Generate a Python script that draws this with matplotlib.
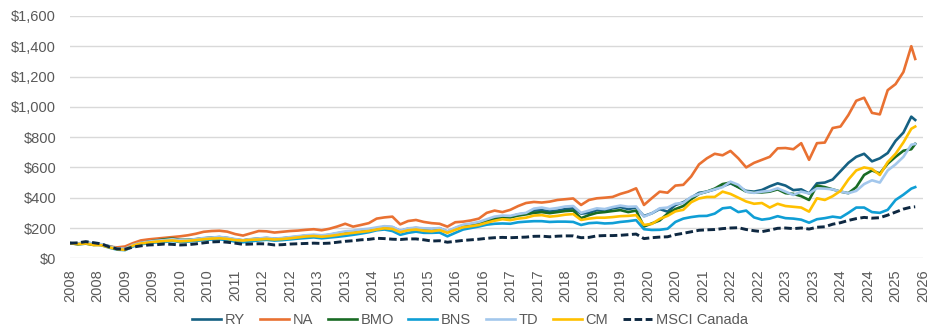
import matplotlib
matplotlib.use("Agg")
import matplotlib.pyplot as plt
import numpy as np
import pandas as pd

plt.rcParams['font.family'] = ['Liberation Sans', 'DejaVu Sans']

# Valeur de 100 $ investis en janvier 2008 (points tous les deux mois, puis dec. 2025)
dates = list(pd.date_range('2008-01-01', '2025-11-01', freq='2MS')) + [pd.Timestamp('2025-12-01')]

ry = [100, 96, 104, 97, 92, 80,
      66, 63, 90, 104, 112, 118,
      120, 124, 118, 120, 125, 132,
      136, 140, 134, 124, 118, 125,
      130, 134, 128, 132, 138, 142,
      150, 152, 148, 155, 165, 172,
      178, 185, 190, 198, 208, 205,
      180, 195, 200, 195, 192, 198,
      176, 198, 218, 225, 232, 250,
      262, 272, 275, 290, 296, 315,
      318, 310, 315, 325, 330, 295,
      300, 318, 315, 330, 338, 325,
      335, 279, 297, 325, 308, 352,
      370, 400, 432, 440, 455, 475,
      495, 470, 445, 440, 451, 475,
      495, 480, 450, 455, 428, 495,
      500, 520, 575, 630, 670, 690,
      640, 660, 695, 775, 830, 935,
      913]

na = [100, 97, 103, 94, 90, 76,
      72, 78, 100, 118, 125, 130,
      135, 140, 145, 152, 162, 175,
      180, 182, 176, 160, 150, 165,
      180, 178, 170, 175, 180, 183,
      188, 192, 185, 195, 210, 228,
      209, 220, 232, 262, 270, 275,
      224, 246, 253, 240, 232, 228,
      209, 238, 242, 250, 262, 300,
      315, 305, 320, 345, 365, 372,
      368, 374, 385, 390, 395, 352,
      385, 396, 400, 405, 425, 440,
      462, 352, 397, 440, 433, 480,
      485, 540, 620, 660, 690, 680,
      709, 660, 600, 630, 650, 670,
      726, 728, 720, 760, 650, 760,
      764, 860, 870, 946, 1040, 1060,
      960, 950, 1110, 1150, 1230, 1400,
      1316]

bmo = [100, 92, 97, 88, 90, 75,
       62, 58, 84, 100, 110, 118,
       125, 130, 122, 122, 126, 131,
       136, 138, 132, 122, 118, 125,
       128, 132, 126, 130, 136, 140,
       145, 150, 147, 152, 160, 168,
       174, 180, 186, 194, 200, 196,
       178, 190, 196, 190, 186, 192,
       174, 196, 216, 222, 230, 246,
       262, 272, 270, 282, 290, 300,
       305, 298, 305, 312, 315, 265,
       285, 300, 305, 312, 318, 305,
       315, 210, 230, 250, 295, 325,
       345, 390, 425, 440, 460, 490,
       500, 470, 440, 435, 435, 440,
       455, 430, 425, 410, 385, 480,
       470, 455, 440, 430, 470, 550,
       580, 560, 625, 670, 710, 720,
       755]

bns = [100, 98, 104, 95, 86, 70,
       57, 54, 78, 92, 100, 105,
       108, 114, 108, 110, 115, 120,
       124, 125, 120, 110, 106, 112,
       118, 122, 117, 120, 125, 130,
       134, 138, 132, 137, 142, 148,
       155, 163, 172, 185, 190, 180,
       155, 168, 176, 168, 168, 170,
       145, 168, 190, 200, 210, 222,
       228, 230, 228, 238, 242, 245,
       245, 240, 242, 242, 240, 220,
       232, 235, 230, 232, 240, 245,
       252, 192, 187, 188, 195, 240,
       262, 272, 279, 280, 295, 330,
       336, 305, 315, 270, 255, 262,
       278, 265, 262, 255, 235, 258,
       265, 275, 268, 300, 335, 335,
       305, 300, 320, 385, 420, 460,
       470]

td = [100, 97, 102, 96, 93, 78,
      65, 63, 88, 102, 110, 116,
      120, 126, 120, 121, 127, 134,
      137, 141, 136, 127, 120, 127,
      131, 136, 130, 134, 140, 146,
      152, 156, 152, 158, 168, 178,
      182, 190, 195, 204, 212, 208,
      182, 198, 202, 198, 196, 200,
      178, 202, 222, 230, 240, 258,
      275, 282, 280, 292, 300, 328,
      335, 325, 332, 342, 345, 300,
      315, 330, 325, 338, 348, 340,
      342, 275, 297, 330, 335, 360,
      365, 405, 425, 440, 455, 470,
      506, 485, 440, 432, 440, 445,
      462, 440, 418, 440, 428, 462,
      460, 455, 440, 430, 445, 490,
      515, 500, 580, 620, 670, 750,
      755]

cm = [100, 94, 98, 88, 86, 72,
      60, 56, 84, 98, 104, 110,
      114, 118, 112, 115, 120, 126,
      130, 132, 128, 120, 117, 122,
      124, 128, 124, 127, 132, 138,
      144, 147, 142, 147, 154, 162,
      168, 174, 180, 190, 198, 194,
      172, 185, 190, 182, 178, 186,
      168, 188, 205, 212, 220, 235,
      248, 258, 252, 262, 268, 282,
      285, 275, 280, 288, 292, 253,
      262, 268, 268, 272, 278, 280,
      285, 220, 227, 260, 280, 310,
      320, 370, 395, 405, 405, 440,
      425, 400, 375, 360, 365, 335,
      360, 345, 340, 335, 308, 396,
      385, 410, 445, 520, 580, 600,
      590, 550, 635, 690, 765, 855,
      870]

msci = [100, 102, 110, 103, 95, 75,
        62, 60, 74, 82, 88, 90,
        94, 92, 88, 90, 95, 102,
        108, 110, 106, 100, 92, 94,
        96, 95, 88, 90, 94, 96,
        98, 100, 98, 100, 106, 112,
        116, 122, 125, 132, 130, 126,
        124, 128, 128, 122, 114, 116,
        106, 112, 118, 122, 126, 132,
        136, 138, 136, 138, 140, 145,
        146, 142, 146, 148, 148, 136,
        138, 148, 150, 150, 152, 156,
        160, 130, 136, 140, 142, 156,
        165, 175, 185, 188, 190, 196,
        200, 202, 190, 182, 176, 186,
        198, 200, 196, 200, 193, 205,
        208, 225, 235, 250, 262, 270,
        265, 268, 285, 305, 325, 338,
        340]

series = [('RY', ry, '#156082', '-'),
          ('NA', na, '#E97132', '-'),
          ('BMO', bmo, '#196B24', '-'),
          ('BNS', bns, '#0F9ED5', '-'),
          ('TD', td, '#A3C7EC', '-'),
          ('CM', cm, '#FFC000', '-'),
          ('MSCI Canada', msci, '#0E2841', '--')]

# position en mois depuis janvier 2008 (axe de categories mensuel)
mois = np.array([(d.year - 2008) * 12 + d.month - 1 for d in dates])

# etiquettes de l'axe x : une tous les 7 mois
ticks_pos = np.arange(0, 218, 7)
ticks_lbl = [str(2008 + p // 12) for p in ticks_pos]

fig = plt.figure(figsize=(9.4, 3.32), dpi=100)
ax = fig.add_axes([0.0745, 0.222, 0.9075, 0.730])

for nom, vals, coul, style in series:
    if style == '--':
        ax.plot(mois, vals, color=coul, lw=2.1, linestyle=(0, (2.6, 1.2)), label=nom)
    else:
        ax.plot(mois, vals, color=coul, lw=1.9, label=nom)

ax.set_xlim(0, 217)
ax.set_ylim(0, 1600)
ax.set_yticks(np.arange(0, 1601, 200))
ax.yaxis.set_major_formatter(matplotlib.ticker.FuncFormatter(lambda v, p: f'${v:,.0f}'))
ax.set_xticks(ticks_pos)
ax.set_xticklabels(ticks_lbl, rotation=90)
ax.tick_params(axis='both', length=0, labelsize=10.5, colors='#595959')
ax.tick_params(axis='y', pad=10)
ax.tick_params(axis='x', pad=8)
ax.grid(axis='y', color='#D9D9D9', lw=1)
ax.set_axisbelow(True)
for s in ['top', 'right', 'left', 'bottom']:
    ax.spines[s].set_visible(False)

fig.legend(loc='center', bbox_to_anchor=(0.5, 0.036), ncol=7, frameon=False,
           fontsize=10.5, handlelength=2.0, handletextpad=0.25, columnspacing=1.0,
           labelcolor='#595959')

fig.savefig('out.png', dpi=100)
